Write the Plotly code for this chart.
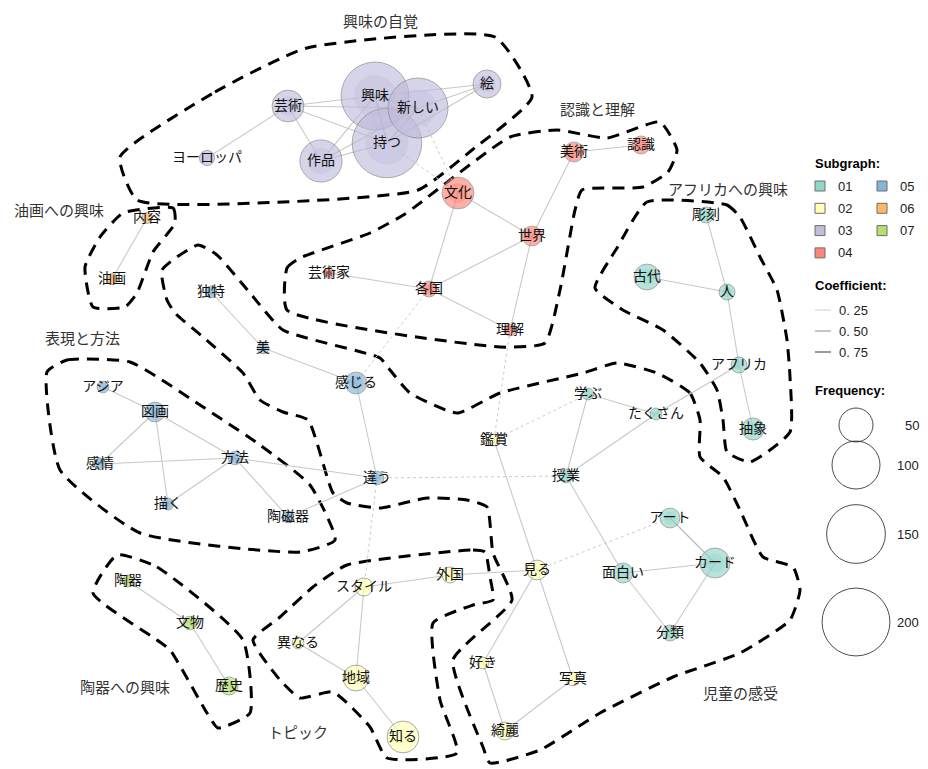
import plotly.graph_objects as go
import math

# ---------------- data ----------------
node_names = ["興味","持つ","新しい","芸術","作品","絵","ヨーロッパ",
              "文化","美術","認識","世界","各国","理解","芸術家",
              "独特","美","感じる","違う","陶磁器","方法","図画","アジア","感情","描く",
              "内容","油画",
              "陶器","文物","歴史",
              "スタイル","外国","異なる","地域","知る","見る","鑑賞","好き","写真","綺麗",
              "彫刻","古代","人","アフリカ","抽象","たくさん","学ぶ","授業","アート","カード","面白い","分類"]
node_x = [375,387,418,288,321,487,207,
          458,574,641,532,429,510,329,
          211,263,356,377,288,235,155,103,100,168,
          147,112,
          128,190,229,
          364,450,298,356,403,537,494,483,573,505,
          706,647,727,739,753,656,588,566,670,715,623,670]
node_y = [96,143,108,106,161,84,158,
          193,152,145,236,289,330,273,
          292,348,383,478,517,458,412,387,464,504,
          218,279,
          581,623,686,
          587,575,643,678,737,570,440,663,679,731,
          215,277,292,365,429,414,394,476,518,563,573,633]
node_freq = [200,210,156,44,77,34,10,
             44,17,14,17,11,6,5,
             6,6,21,8,6,8,17,6,6,6,
             5,5,
             6,8,14,
             14,11,6,29,44,17,6,6,8,14,
             11,29,11,11,21,6,6,8,17,39,17,11]
node_group = ["03"]*7 + ["04"]*7 + ["05"]*10 + ["06"]*2 + ["07"]*3 + ["02"]*10 + ["01"]*12

group_ids = ["01","02","03","04","05","06","07"]
group_colors = ["#8DD3C7","#FFFFB3","#BEBADA","#FB8072","#80B1D3","#FDB462","#B3DE69"]

edge_src = ["芸術","芸術","芸術","芸術","芸術","作品","作品","作品","興味","興味","新しい","絵","絵","絵",
            "美術","美術","文化","文化","各国","各国","世界","芸術家",
            "独特","美","感じる","違う","違う","方法","方法","方法","方法","図画","図画","図画",
            "内容",
            "陶器","文物",
            "スタイル","スタイル","スタイル","異なる","地域","外国","鑑賞","見る","見る","好き","写真",
            "彫刻","古代","人","アフリカ","アフリカ","学ぶ","学ぶ","たくさん","授業","面白い","面白い","カード","アート"]
edge_dst = ["ヨーロッパ","興味","新しい","持つ","作品","興味","持つ","新しい","新しい","持つ","持つ","興味","新しい","持つ",
            "認識","世界","世界","各国","世界","理解","理解","各国",
            "美","感じる","違う","方法","陶磁器","図画","感情","描く","陶磁器","アジア","感情","描く",
            "油画",
            "文物","歴史",
            "外国","異なる","地域","地域","知る","見る","見る","好き","写真","綺麗","綺麗",
            "人","人","アフリカ","抽象","たくさん","たくさん","授業","授業","面白い","カード","分類","分類","カード"]
edge_coef = [0.3,0.3,0.3,0.3,0.3,0.35,0.35,0.3,0.4,0.45,0.4,0.3,0.3,0.3,
             0.3,0.3,0.3,0.3,0.3,0.3,0.3,0.3,
             0.3,0.3,0.3,0.3,0.3,0.3,0.3,0.3,0.3,0.3,0.3,0.3,
             0.3,
             0.3,0.3,
             0.3,0.3,0.3,0.3,0.3,0.3,0.3,0.3,0.3,0.3,0.3,
             0.3,0.3,0.3,0.3,0.3,0.3,0.3,0.3,0.3,0.3,0.3,0.3,0.4]
cross_src = ["持つ","新しい","各国","理解","鑑賞","違う","違う","見る"]
cross_dst = ["文化","文化","感じる","鑑賞","学ぶ","授業","スタイル","アート"]

region_names = ["興味の自覚","認識と理解","油画への興味","アフリカへの興味","表現と方法","陶器への興味","トピック","児童の感受"]
region_label_x = [380,597,59,728,82,125,298,740]
region_label_y = [20,108,209,188,337,686,731,692]

region_paths = [
    [(120,157),(215,92),(307,48),(495,37),(532,97),(472,150),(418,190),(283,202),(137,200),(120,157)],
    [(287,310),(287,268),(300,258),(370,233),(405,214),(510,137),(557,130),(607,138),(660,122),(677,150),(668,172),(643,187),(582,190),(575,210),(560,290),(545,343),(500,347),(287,310)],
    [(123,213),(173,208),(175,223),(153,252),(137,293),(125,307),(93,307),(85,267),(100,237),(123,213)],
    [(647,202),(727,205),(740,217),(760,257),(777,290),(787,340),(790,377),(790,432),(750,462),(727,452),(723,420),(717,390),(700,363),(663,330),(623,310),(595,288),(617,248),(647,202)],
    [(47,372),(67,360),(130,362),(200,405),(260,445),(310,485),(335,540),(300,552),(140,533),(60,470),(47,372)],
    [(117,555),(157,567),(243,640),(250,713),(218,728),(207,713),(170,650),(157,640),(93,593),(117,555)],
    [(347,565),(473,550),(485,552),(490,577),(493,600),(473,605),(433,623),(440,700),(457,753),(387,758),(370,727),(333,692),(300,698),(280,680),(253,640),(280,617),(313,587),(347,565)],
    [(657,373),(690,393),(700,420),(700,457),(723,477),(740,510),(763,557),(793,567),(800,590),(790,620),(740,653),(673,677),(600,713),(540,750),(490,763),(483,747),(453,660),(512,600),(493,553),(487,507),(467,500),(427,498),(380,508),(347,503),(333,493),(308,420),(283,412),(260,400),(243,373),(203,337),(175,313),(167,300),(162,270),(198,245),(217,255),(250,293),(283,330),(380,358),(390,370),(410,393),(457,413),(500,393),(583,373),(617,363),(657,373)],
]

legend_freqs = [50,100,150,200]
legend_freq_y = [425,465,534,622]
legend_coefs = [0.25,0.50,0.75]
legend_coef_labels = ["0. 25","0. 50","0. 75"]

# ---------------- helpers ----------------
def diam(f):
    return 4.8*math.sqrt(f)

def coef_width(c):
    return 0.6 + 1.6*c

def coef_color(c):
    v = int(238 - 125*c)
    return f"rgb({v},{v},{v})"

idx = {n:i for i,n in enumerate(node_names)}
gcol = dict(zip(group_ids, group_colors))
fig = go.Figure()

# region boundaries
for path in region_paths:
    fig.add_trace(go.Scatter(x=[p[0] for p in path], y=[p[1] for p in path], mode="lines",
                             line=dict(color="black", width=3, dash="12px,8px", shape="spline", smoothing=0.5),
                             hoverinfo="skip", showlegend=False))

# edges
for s,d,c in zip(edge_src, edge_dst, edge_coef):
    a, b = idx[s], idx[d]
    fig.add_trace(go.Scatter(x=[node_x[a], node_x[b]], y=[node_y[a], node_y[b]], mode="lines",
                             line=dict(color=coef_color(c), width=coef_width(c)),
                             hoverinfo="skip", showlegend=False))
cx, cy = [], []
for s,d in zip(cross_src, cross_dst):
    a, b = idx[s], idx[d]
    cx += [node_x[a], node_x[b], None]
    cy += [node_y[a], node_y[b], None]
fig.add_trace(go.Scatter(x=cx, y=cy, mode="lines", line=dict(color="#cccccc", width=1, dash="dot"),
                         hoverinfo="skip", showlegend=False))

# nodes (outer + inner)
cols = [gcol[g] for g in node_group]
fig.add_trace(go.Scatter(x=node_x, y=node_y, mode="markers",
                         marker=dict(size=[diam(f) for f in node_freq], color=cols, opacity=0.62,
                                     line=dict(color="#777777", width=1)),
                         hoverinfo="skip", showlegend=False))
fig.add_trace(go.Scatter(x=node_x, y=node_y, mode="markers",
                         marker=dict(size=[diam(f)*0.62 for f in node_freq], color=cols, opacity=0.35,
                                     line=dict(width=0)),
                         hoverinfo="skip", showlegend=False))
fig.add_trace(go.Scatter(x=node_x, y=node_y, mode="text", text=node_names,
                         textfont=dict(family="Noto Sans CJK JP", size=14, color="#111111"),
                         textposition="middle center", hoverinfo="skip", showlegend=False))

# region labels
for name, x, y in zip(region_names, region_label_x, region_label_y):
    fig.add_annotation(x=x, y=y, text=name, showarrow=False,
                       font=dict(family="Noto Sans CJK JP", size=15, color="#333333"))

# ---------------- legend ----------------
LF = "Liberation Sans"
fig.add_annotation(x=813, y=163, text="<b>Subgraph:</b>", showarrow=False, xanchor="left",
                   font=dict(family=LF, size=13, color="black"))
for i,(g,c) in enumerate(zip(group_ids, group_colors)):
    col, row = (0, i) if i < 4 else (1, i-4)
    sx = 820 + col*62
    sy = 186 + row*22.3
    fig.add_shape(type="rect", x0=sx-5, x1=sx+5, y0=sy-5, y1=sy+5,
                  fillcolor=c, opacity=0.95, line=dict(color="#666666", width=1))
    fig.add_annotation(x=sx+16, y=sy, text=g, showarrow=False, xanchor="left",
                       font=dict(family=LF, size=13, color="#222222"))
fig.add_annotation(x=813, y=285, text="<b>Coefficient:</b>", showarrow=False, xanchor="left",
                   font=dict(family=LF, size=13, color="black"))
for i,(c,lab) in enumerate(zip(legend_coefs, legend_coef_labels)):
    ly = 310 + i*21
    fig.add_shape(type="line", x0=815, x1=831, y0=ly, y1=ly,
                  line=dict(color=coef_color(c), width=coef_width(c)))
    fig.add_annotation(x=837, y=ly, text=lab, showarrow=False, xanchor="left",
                       font=dict(family=LF, size=13, color="#222222"))
fig.add_annotation(x=813, y=390, text="<b>Frequency:</b>", showarrow=False, xanchor="left",
                   font=dict(family=LF, size=13, color="black"))
fig.add_trace(go.Scatter(x=[856]*len(legend_freqs), y=legend_freq_y, mode="markers",
                         marker=dict(size=[diam(f) for f in legend_freqs], color="rgba(0,0,0,0)",
                                     line=dict(color="black", width=1)),
                         hoverinfo="skip", showlegend=False))
for f, y in zip(legend_freqs, legend_freq_y):
    fig.add_annotation(x=921, y=y, text=str(f), showarrow=False, xanchor="right",
                       font=dict(family=LF, size=13, color="#222222"))

# page body has an 8px margin: shift the pixel-space axes so that screen pixels match
OFF = 8
fig.update_layout(width=928, height=769, margin=dict(l=0, r=0, t=0, b=0),
                  paper_bgcolor="white", plot_bgcolor="white",
                  xaxis=dict(range=[OFF, 928+OFF], visible=False, fixedrange=True),
                  yaxis=dict(range=[769+OFF, OFF], visible=False, fixedrange=True))
fig.write_html("out.html")
